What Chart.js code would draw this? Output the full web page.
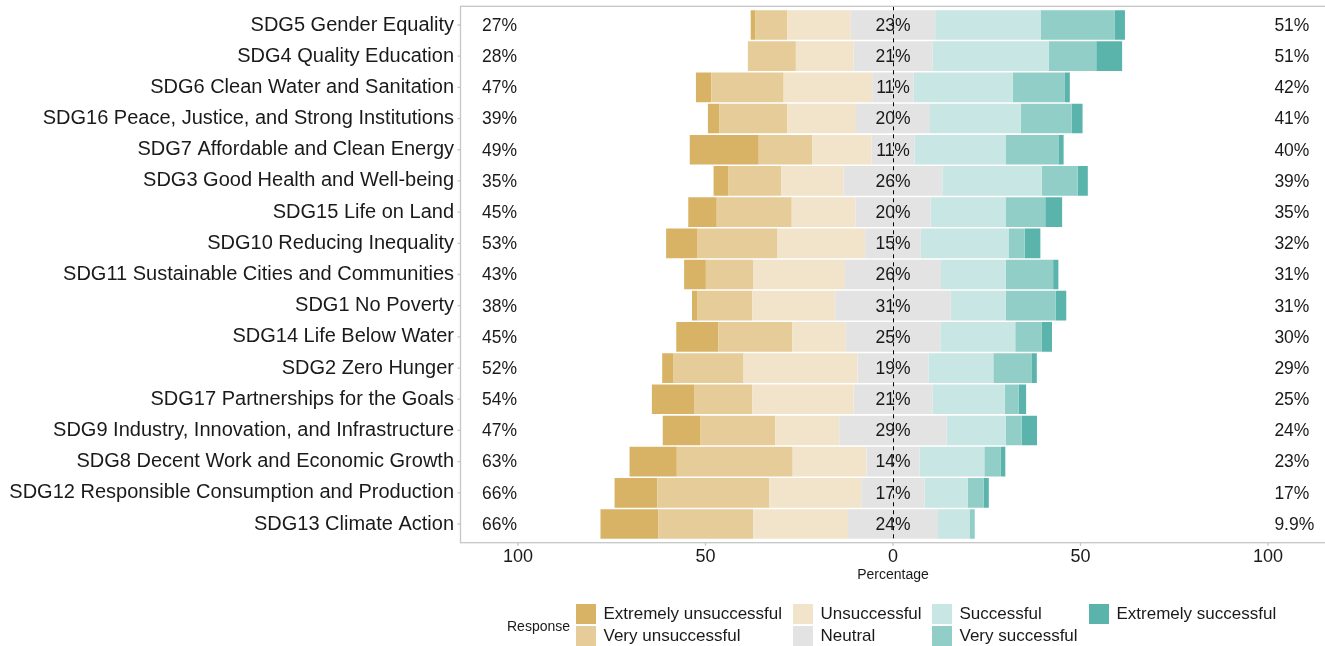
<!DOCTYPE html>
<html>
<head>
<meta charset="utf-8">
<script src="https://cdn.jsdelivr.net/npm/chart.js@4.4.1/dist/chart.umd.min.js"></script>
<style>
  html, body { margin: 0; padding: 0; background: #fff; }
  #wrap { position: relative; width: 1325px; height: 646px; font-family: "Liberation Sans", Arial, sans-serif; color: #1a1a1a; }
  #legend-title { position: absolute; left: 507px; top: 617px; font-size: 14px; line-height: 18px; }
  .key { position: absolute; width: 20px; height: 20px; }
  .key-text { position: absolute; font-size: 17px; line-height: 20px; white-space: nowrap; }
</style>
</head>
<body>
<div id="wrap">
  <canvas id="likert" width="1325" height="646"></canvas>
  <div id="legend-title">Response</div>
  <div id="legend"></div>
</div>
<script>
const goals = [
  "SDG5 Gender Equality",
  "SDG4 Quality Education",
  "SDG6 Clean Water and Sanitation",
  "SDG16 Peace, Justice, and Strong Institutions",
  "SDG7 Affordable and Clean Energy",
  "SDG3 Good Health and Well-being",
  "SDG15 Life on Land",
  "SDG10 Reducing Inequality",
  "SDG11 Sustainable Cities and Communities",
  "SDG1 No Poverty",
  "SDG14 Life Below Water",
  "SDG2 Zero Hunger",
  "SDG17 Partnerships for the Goals",
  "SDG9 Industry, Innovation, and Infrastructure",
  "SDG8 Decent Work and Economic Growth",
  "SDG12 Responsible Consumption and Production",
  "SDG13 Climate Action"
];

// percent of responses per goal
const extremelyUnsuccessful = [1.3, 0, 4.1, 3.1, 18.4, 4.0, 7.6, 8.4, 5.8, 1.5, 11.2, 2.9, 11.4, 10.1, 12.6, 11.4, 15.4];
const veryUnsuccessful = [8.5, 12.8, 19.3, 18.1, 14.3, 14.1, 20.0, 21.3, 12.7, 14.6, 19.7, 18.8, 15.4, 19.9, 30.9, 29.9, 25.3];
const unsuccessful = [16.9, 15.4, 23.6, 18.3, 15.8, 16.6, 17.0, 23.4, 24.4, 22.1, 14.3, 30.4, 27.0, 17.1, 19.7, 24.5, 25.3];
const neutral = [22.5, 21.0, 11.1, 19.7, 11.4, 26.3, 20.0, 14.8, 25.6, 30.8, 25.2, 18.9, 21.0, 28.6, 14.1, 16.9, 24.0];
const successful = [28.1, 31.0, 26.4, 24.2, 24.3, 26.5, 20.0, 23.4, 17.3, 14.7, 20.0, 17.3, 19.3, 15.8, 17.3, 11.5, 8.4];
const verySuccessful = [19.7, 12.7, 13.9, 13.6, 14.1, 9.6, 10.6, 4.3, 12.6, 13.3, 7.1, 10.3, 3.7, 4.2, 4.4, 4.2, 1.4];
const extremelySuccessful = [2.8, 6.9, 1.3, 2.9, 1.4, 2.7, 4.5, 4.2, 1.4, 2.8, 2.7, 1.3, 2.0, 4.1, 1.2, 1.4, 0];

// printed summaries
const leftLabels = ["27%", "28%", "47%", "39%", "49%", "35%", "45%", "53%", "43%", "38%", "45%", "52%", "54%", "47%", "63%", "66%", "66%"];
const neutralLabels = ["23%", "21%", "11%", "20%", "11%", "26%", "20%", "15%", "26%", "31%", "25%", "19%", "21%", "29%", "14%", "17%", "24%"];
const rightLabels = ["51%", "51%", "42%", "41%", "40%", "39%", "35%", "32%", "31%", "31%", "30%", "29%", "25%", "24%", "23%", "17%", "9.9%"];

const xTicks = [-100, -50, 0, 50, 100];

const responses = ["Extremely unsuccessful", "Very unsuccessful", "Unsuccessful", "Neutral", "Successful", "Very successful", "Extremely successful"];
const palette = ["#D8B365", "#E6CC99", "#F2E4CA", "#E3E3E3", "#C8E6E4", "#91CEC7", "#5AB4AC"];

const FONT = '"Liberation Sans", Arial, sans-serif';

function bar(data, color) {
  return {
    data: data,
    backgroundColor: color,
    borderWidth: 0,
    stack: "s",
    barPercentage: 0.95,
    categoryPercentage: 1.0
  };
}

// negative side stacks outward from zero in dataset order
const datasets = [
  bar(neutral.map((v) => -v / 2), palette[3]),
  bar(unsuccessful.map((v) => -v), palette[2]),
  bar(veryUnsuccessful.map((v) => -v), palette[1]),
  bar(extremelyUnsuccessful.map((v) => -v), palette[0]),
  bar(neutral.map((v) => v / 2), palette[3]),
  bar(successful, palette[4]),
  bar(verySuccessful, palette[5]),
  bar(extremelySuccessful, palette[6])
];

const overlay = {
  id: "overlay",
  afterDatasetsDraw(chart) {
    const { ctx, chartArea: a, scales: { x, y } } = chart;
    const top = a.top - 3.1;
    const bottom = a.bottom + 3.1;
    ctx.save();

    // dashed zero line
    const x0 = Math.round(x.getPixelForValue(0)) + 0.5;
    ctx.strokeStyle = "#000";
    ctx.lineWidth = 1;
    ctx.setLineDash([4, 4]);
    ctx.beginPath();
    ctx.moveTo(x0, top);
    ctx.lineTo(x0, bottom);
    ctx.stroke();
    ctx.setLineDash([]);

    // percentage labels
    ctx.font = "17.5px " + FONT;
    ctx.fillStyle = "#1a1a1a";
    ctx.textBaseline = "middle";
    for (let i = 0; i < goals.length; i++) {
      const yy = y.getPixelForValue(i) + 1;
      ctx.textAlign = "left";
      ctx.fillText(leftLabels[i], x.getPixelForValue(-109.6), yy);
      ctx.textAlign = "center";
      ctx.fillText(neutralLabels[i], x.getPixelForValue(0), yy);
      ctx.textAlign = "left";
      ctx.fillText(rightLabels[i], x.getPixelForValue(101.7), yy);
    }

    // panel border and tick marks
    ctx.strokeStyle = "#c6c6c6";
    ctx.lineWidth = 1.3;
    ctx.strokeRect(a.left - 0.5, top, a.right - a.left + 2, bottom - top);
    ctx.beginPath();
    for (let i = 0; i < goals.length; i++) {
      const yy = y.getPixelForValue(i);
      ctx.moveTo(a.left - 0.5, yy);
      ctx.lineTo(a.left - 3.5, yy);
    }
    xTicks.forEach((v) => {
      const xx = x.getPixelForValue(v);
      ctx.moveTo(xx, bottom);
      ctx.lineTo(xx, bottom + 3);
    });
    ctx.stroke();
    ctx.restore();
  }
};

new Chart(document.getElementById("likert"), {
  type: "bar",
  data: { labels: goals, datasets: datasets },
  options: {
    responsive: false,
    animation: false,
    indexAxis: "y",
    layout: { padding: { top: 9.4, right: 0, bottom: 0, left: 0 } },
    plugins: {
      legend: { display: false },
      tooltip: { enabled: false }
    },
    scales: {
      x: {
        type: "linear",
        stacked: true,
        min: -115.2,
        max: 115.2,
        grid: { display: false, drawTicks: false },
        border: { display: false },
        afterBuildTicks: (s) => { s.ticks = xTicks.map((v) => ({ value: v })); },
        afterFit: (s) => {
          s.height = 106.4;
          s.paddingLeft = 0;
          s.paddingRight = 0;
        },
        ticks: {
          callback: (v) => Math.abs(v),
          font: { size: 18, family: FONT },
          color: "#1a1a1a",
          padding: 7,
          maxRotation: 0
        },
        title: {
          display: true,
          text: "Percentage",
          font: { size: 14, family: FONT },
          color: "#1a1a1a",
          padding: { top: 0, bottom: 62.6 }
        }
      },
      y: {
        stacked: true,
        grid: { display: false, drawTicks: false },
        border: { display: false },
        afterFit: (s) => {
          s.width = 461;
          s.paddingTop = 0;
          s.paddingBottom = 0;
        },
        ticks: {
          font: { size: 20, family: FONT },
          color: "#1a1a1a",
          padding: 7
        }
      }
    }
  },
  plugins: [overlay]
});

// legend: two rows, filled column by column
const legendCols = [576, 793, 932, 1089];
const legend = document.getElementById("legend");
responses.forEach((name, i) => {
  const col = Math.floor(i / 2);
  const row = i % 2;
  const left = legendCols[col];
  const top = 604 + row * 22;
  const key = document.createElement("div");
  key.className = "key";
  key.style.left = left + "px";
  key.style.top = top + "px";
  key.style.background = palette[i];
  const text = document.createElement("div");
  text.className = "key-text";
  text.style.left = (left + 27.5) + "px";
  text.style.top = top + "px";
  text.textContent = name;
  legend.appendChild(key);
  legend.appendChild(text);
});
</script>
</body>
</html>
